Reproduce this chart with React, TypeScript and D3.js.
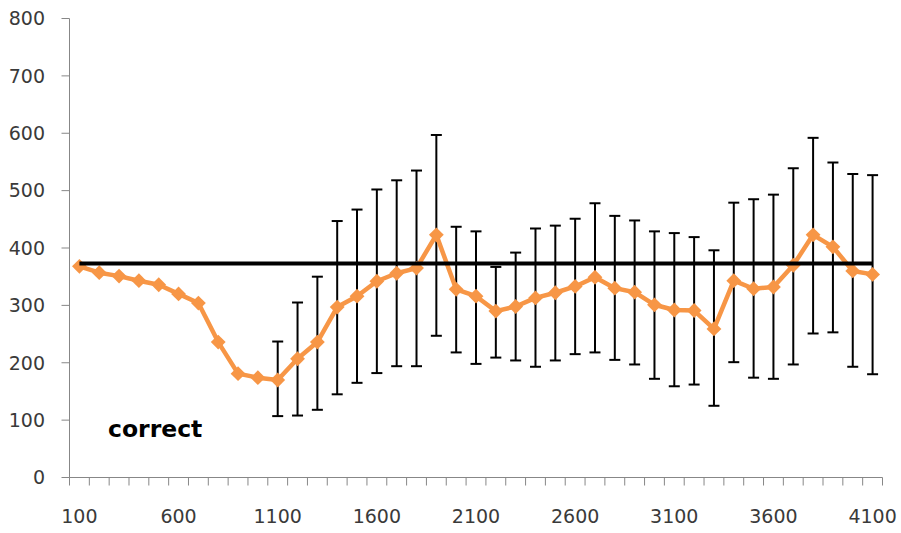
import React from "react";
import * as d3 from "d3";

const categories = [
  100, 200, 300, 400, 500, 600, 700, 800, 900, 1000,
  1100, 1200, 1300, 1400, 1500, 1600, 1700, 1800, 1900, 2000,
  2100, 2200, 2300, 2400, 2500, 2600, 2700, 2800, 2900, 3000,
  3100, 3200, 3300, 3400, 3500, 3600, 3700, 3800, 3900, 4000, 4100,
];

const values = [
  368, 357, 351, 343, 336, 320, 304, 236, 181, 174,
  170, 207, 236, 297, 316, 342, 356, 365, 423, 328,
  316, 290, 298, 313, 322, 333, 349, 330, 323, 301,
  292, 291, 259, 343, 329, 332, 370, 423, 402, 360, 354,
];

const errorHigh: (number | null)[] = [
  null, null, null, null, null, null, null, null, null, null,
  237, 305, 350, 447, 467, 502, 518, 535, 597, 437,
  429, 367, 392, 434, 439, 451, 478, 456, 448, 429,
  426, 419, 396, 479, 485, 493, 539, 592, 549, 529, 527,
];

const errorLow: (number | null)[] = [
  null, null, null, null, null, null, null, null, null, null,
  107, 108, 118, 145, 165, 182, 194, 194, 247, 218,
  198, 209, 204, 193, 204, 215, 218, 205, 197, 172,
  159, 162, 125, 201, 174, 172, 197, 251, 253, 193, 180,
];

const referenceValue = 373;
const yTicks = [0, 100, 200, 300, 400, 500, 600, 700, 800];
const xLabels = [100, 600, 1100, 1600, 2100, 2600, 3100, 3600, 4100];
const annotation = "correct";

const W = 901;
const H = 533;
const left = 69.5;
const right = 882.5;
const top = 18.5;
const bottom = 477.5;

export default function App() {
  const x = d3
    .scaleBand<number>()
    .domain(categories)
    .range([left, right])
    .padding(0);
  const bw = x.bandwidth();
  const cx = (c: number) => (x(c) as number) + bw / 2;
  const y = d3.scaleLinear().domain([0, 800]).range([bottom, top]);

  const line = d3
    .line<number>()
    .x((_, i) => cx(categories[i]))
    .y((d) => y(d));

  const diamond = d3.symbol().type(d3.symbolSquare).size(110)() as string;

  const axisColor = "#878787";
  const textColor = "#3a3a3a";
  const orange = "#F79646";
  const font = "'DejaVu Sans', sans-serif";

  const xTickPositions = categories.map((c) => x(c) as number).concat([right]);

  return (
    <div style={{ position: "absolute", left: 0, top: 0 }}>
      <svg width={W} height={H} style={{ display: "block", background: "#fff" }}>
        {/* Y axis */}
        <line x1={left} x2={left} y1={top} y2={bottom} stroke={axisColor} strokeWidth={1} />
        {yTicks.map((t) => (
          <g key={"y" + t}>
            <line x1={left - 8} x2={left} y1={y(t)} y2={y(t)} stroke={axisColor} strokeWidth={1} />
            <text
              x={45}
              y={y(t)}
              dy="0.36em"
              textAnchor="end"
              fontFamily={font}
              fontSize={19}
              fill={textColor}
            >
              {t}
            </text>
          </g>
        ))}
        {/* X axis */}
        <line x1={left} x2={right} y1={bottom} y2={bottom} stroke={axisColor} strokeWidth={1} />
        {xTickPositions.map((p, i) => (
          <line key={"xt" + i} x1={p} x2={p} y1={bottom} y2={bottom + 8} stroke={axisColor} strokeWidth={1} />
        ))}
        {xLabels.map((c) => (
          <text
            key={"xl" + c}
            x={cx(c)}
            y={523}
            textAnchor="middle"
            fontFamily={font}
            fontSize={19}
            fill={textColor}
          >
            {c}
          </text>
        ))}

        {/* Error bars */}
        {categories.map((c, i) => {
          const hi = errorHigh[i];
          const lo = errorLow[i];
          if (hi == null || lo == null) return null;
          const px = cx(c);
          return (
            <g key={"e" + c} stroke="#000" strokeWidth={2}>
              <line x1={px} x2={px} y1={y(hi)} y2={y(lo)} />
              <line x1={px - 5.5} x2={px + 5.5} y1={y(hi)} y2={y(hi)} />
              <line x1={px - 5.5} x2={px + 5.5} y1={y(lo)} y2={y(lo)} />
            </g>
          );
        })}

        {/* Orange series */}
        <path d={line(values) as string} fill="none" stroke={orange} strokeWidth={4.5} strokeLinejoin="round" />
        {values.map((v, i) => (
          <path
            key={"m" + i}
            d={diamond}
            transform={`translate(${cx(categories[i])},${y(v)}) rotate(45)`}
            fill={orange}
          />
        ))}

        {/* Reference line */}
        <line
          x1={cx(categories[0])}
          x2={cx(categories[categories.length - 1])}
          y1={y(referenceValue)}
          y2={y(referenceValue)}
          stroke="#000"
          strokeWidth={4}
        />

        <text x={108} y={437} fontFamily={font} fontWeight="bold" fontSize={23.5} fill="#000">
          {annotation}
        </text>
      </svg>
    </div>
  );
}
